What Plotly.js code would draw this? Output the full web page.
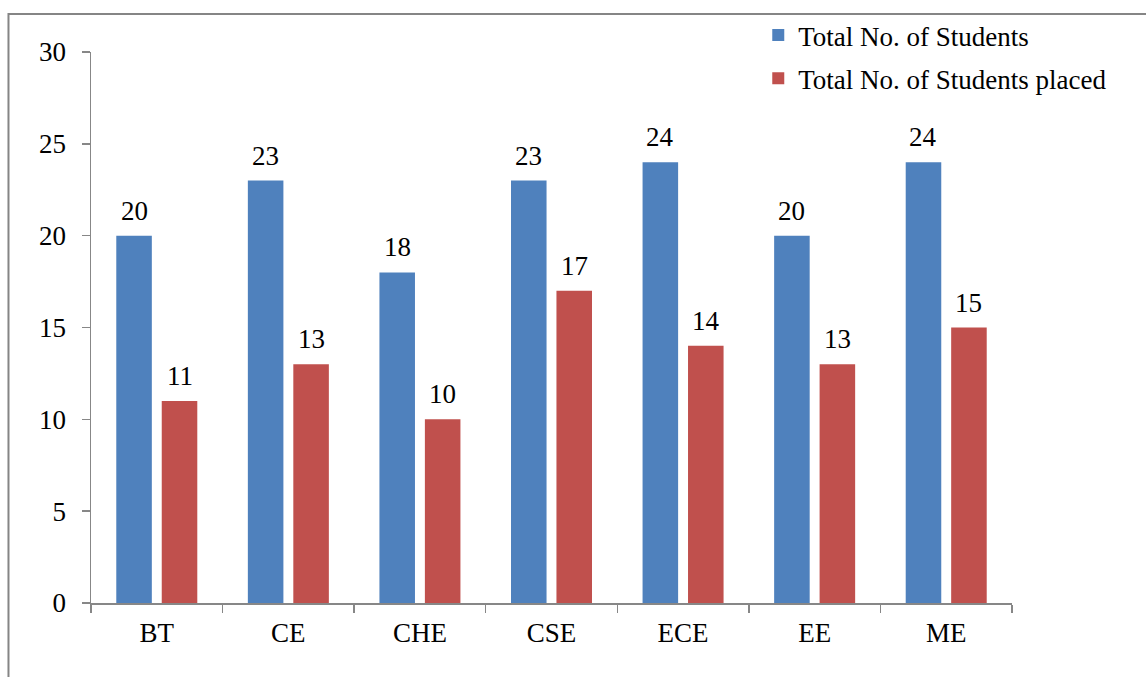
<!DOCTYPE html>
<html>
<head>
<meta charset="utf-8">
<script src="https://cdn.plot.ly/plotly-3.0.1.min.js"></script>
<style>
  html, body { margin: 0; padding: 0; background: #ffffff; }
  #chart { width: 1146px; height: 677px; }
</style>
</head>
<body>
<div id="chart"></div>
<script>
const categories = ['BT', 'CE', 'CHE', 'CSE', 'ECE', 'EE', 'ME'];
const totalStudents = [20, 23, 18, 23, 24, 20, 24];
const studentsPlaced = [11, 13, 10, 17, 14, 13, 15];
const seriesNames = ['Total No. of Students', 'Total No. of Students placed'];
const yTicks = [0, 5, 10, 15, 20, 25, 30];

const FONT = '"Liberation Serif", "Times New Roman", serif';
const FS = 27;
const blue = '#4F81BD';
const red = '#C0504D';
const axisColor = '#878787';

const traces = [
  { type: 'bar', name: seriesNames[0], x: categories, y: totalStudents,
    marker: { color: blue, line: { width: 0 } }, legendgroup: 'a', hoverinfo: 'x+y' },
  { type: 'bar', name: seriesNames[1], x: categories, y: studentsPlaced,
    marker: { color: red, line: { width: 0 } }, legendgroup: 'b', hoverinfo: 'x+y' }
];

const annotations = [];
[[totalStudents, -22.75], [studentsPlaced, 22.75]].forEach(([vals, dx]) => {
  vals.forEach((v, i) => {
    annotations.push({
      x: categories[i], y: v, xref: 'x', yref: 'y', text: String(v),
      showarrow: false, xshift: dx, yshift: 8, yanchor: 'bottom',
      font: { family: FONT, size: FS, color: '#000' }
    });
  });
});

const layout = {
  width: 1146, height: 677,
  margin: { l: 91, r: 134, t: 51, b: 73.5 },
  paper_bgcolor: '#ffffff', plot_bgcolor: '#ffffff',
  font: { family: FONT, size: FS, color: '#000' },
  barmode: 'group', bargap: 0.309, bargroupgap: 0.218,
  showlegend: true,
  legend: {
    x: 0.7245, y: 1.0725, xanchor: 'left', yanchor: 'top',
    traceorder: 'grouped', tracegroupgap: 5,
    font: { family: FONT, size: FS, color: '#000' },
    bgcolor: 'rgba(0,0,0,0)'
  },
  xaxis: {
    type: 'category', showline: true, linecolor: axisColor, linewidth: 1.5,
    ticks: 'outside', tickson: 'boundaries', ticklen: 8, tickcolor: axisColor, tickwidth: 1.5,
    showgrid: false, zeroline: false, ticklabelstandoff: 5,
    tickfont: { family: FONT, size: FS, color: '#000' }
  },
  yaxis: {
    range: [0, 30], tickvals: yTicks, ticktext: yTicks.map(String),
    showline: true, linecolor: axisColor, linewidth: 1.5,
    ticks: 'outside', ticklen: 8, tickcolor: axisColor, tickwidth: 1.5,
    showgrid: false, zeroline: false, ticklabelstandoff: 10,
    tickfont: { family: FONT, size: FS, color: '#000' }
  },
  annotations: annotations,
  shapes: [{
    type: 'path', xref: 'paper', yref: 'paper',
    path: 'M -0.0896,-0.14 L -0.0896,1.0688 L 1.15,1.0688',
    line: { color: '#858585', width: 2 }
  }]
};

Plotly.newPlot('chart', traces, layout, { displayModeBar: false, staticPlot: true });
</script>
</body>
</html>
